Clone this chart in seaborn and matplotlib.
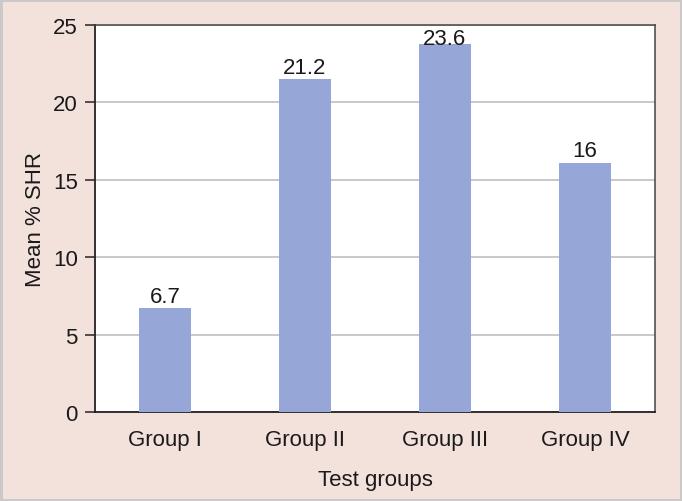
import pandas as pd
import matplotlib.pyplot as plt
import seaborn as sns

groups = ["Group I", "Group II", "Group III", "Group IV"]
# bar heights as drawn in the figure, and the value labels printed above them
bar_heights = [6.7, 21.5, 23.8, 16.1]
bar_labels = ["6.7", "21.2", "23.6", "16"]
y_ticks = [0, 5, 10, 15, 20, 25]
y_max = 25

bg = "#f3e2db"
bar_color = "#95a6d7"
fs = 16

sns.set_theme(style="white")
plt.rcParams['font.family'] = ['Liberation Sans', 'DejaVu Sans']

df = pd.DataFrame({"group": groups, "value": bar_heights})

fig = plt.figure(figsize=(6.82, 5.02), dpi=100, facecolor=bg,
                 edgecolor="#c9c9c9", linewidth=2.5)
ax = fig.add_axes([0.1393, 0.1773, 0.8211, 0.7709])
ax.set_facecolor("white")

sns.barplot(data=df, x="group", y="value", color=bar_color, saturation=1,
            width=0.365, linewidth=0, ax=ax, zorder=3)

for i, lab in enumerate(bar_labels):
    h = bar_heights[i]
    if h > y_max - 1.5:
        # too close to the top: keep the label inside the frame
        ax.annotate(lab, (i, y_max), xytext=(0, -2), textcoords="offset points",
                    ha="center", va="top", fontsize=fs, color="#1a1a1a", zorder=4)
    else:
        ax.annotate(lab, (i, h), xytext=(0, 1), textcoords="offset points",
                    ha="center", va="bottom", fontsize=fs, color="#1a1a1a", zorder=4)

ax.set_ylim(0, y_max)
ax.set_xlim(-0.5, 3.5)
ax.set_yticks(y_ticks)
ax.yaxis.grid(True, color="#c4c4c4", linewidth=1.3, zorder=0)
ax.xaxis.grid(False)

ax.tick_params(axis="y", which="major", left=True, length=7.5, width=1.2,
               color="#333333", labelsize=fs, labelcolor="#1a1a1a", pad=5)
ax.tick_params(axis="x", bottom=False, labelsize=fs, labelcolor="#1a1a1a", pad=6)

for side in ["left", "bottom"]:
    ax.spines[side].set_color("#222222")
    ax.spines[side].set_linewidth(1.3)
for side in ["top", "right"]:
    ax.spines[side].set_color("#444444")
    ax.spines[side].set_linewidth(1.1)

ax.set_xlabel("Test groups", fontsize=fs, color="#1a1a1a", labelpad=14)
ax.set_ylabel("Mean % SHR", fontsize=fs, color="#1a1a1a", labelpad=5)

plt.savefig("out.png", format="png", dpi=100, facecolor=bg)
plt.close()
